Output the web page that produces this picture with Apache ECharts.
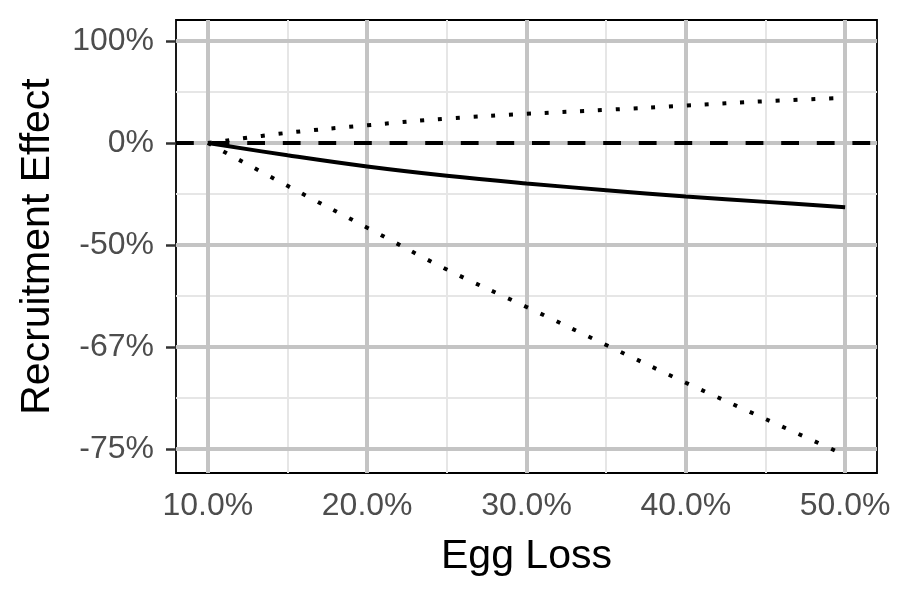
<!DOCTYPE html>
<html>
<head>
<meta charset="utf-8">
<script src="https://cdn.jsdelivr.net/npm/echarts@6/dist/echarts.min.js"></script>
<style>html,body{margin:0;padding:0;background:#fff;}#c{width:900px;height:600px;}</style>
</head>
<body>
<div id="c"></div>
<script>
// Egg loss (%) on x
const eggLoss = [10, 15, 20, 25, 30, 35, 40, 45, 50];
// Recruitment effect, in the chart's symmetric ratio scale (1 = +100%, -1 = -50%, -2 = -67%, -3 = -75%)
const centralEffect = [0, -0.12, -0.23, -0.321, -0.396, -0.462, -0.524, -0.577, -0.629];
const upperEffect   = [0, 0.10, 0.174, 0.24, 0.286, 0.325, 0.368, 0.41, 0.444];
const lowerEffect   = [0, -0.42, -0.83, -1.24, -1.607, -1.98, -2.35, -2.705, -3.06];

const xTicks = [10, 20, 30, 40, 50];
const xTickLabels = ['10.0%', '20.0%', '30.0%', '40.0%', '50.0%'];
const xMinor = [15, 25, 35, 45];
const yTicks = [1, 0, -1, -2, -3];
const yTickLabels = ['100%', '0%', '-50%', '-67%', '-75%'];
const yMinor = [0.5, -0.5, -1.5, -2.5];

const pairs = ys => eggLoss.map((x, i) => [x, ys[i]]);
const FONT = 'Liberation Sans, Arial, sans-serif';

const chart = echarts.init(document.getElementById('c'));
const gridLine = (arr, key, color, width) => arr.map(v => ({ [key]: v, lineStyle: { color, width, type: 'solid' } }));

chart.setOption({
  animation: false,
  grid: { left: 176, top: 20, width: 701, height: 453, show: true, borderColor: '#000', borderWidth: 1.8, backgroundColor: '#fff' },
  xAxis: {
    type: 'value', min: 8, max: 52,
    name: 'Egg Loss', nameLocation: 'middle', nameGap: 63,
    nameTextStyle: { fontSize: 41, color: '#000', fontFamily: FONT },
    axisLine: { show: false },
    splitLine: { show: false },
    axisTick: { show: true, customValues: xTicks, length: 10, lineStyle: { color: '#333', width: 2.5 } },
    axisLabel: { customValues: xTicks, margin: 17, fontSize: 32, color: '#4d4d4d', fontFamily: FONT,
      formatter: v => xTickLabels[xTicks.indexOf(v)] }
  },
  yAxis: {
    type: 'value', min: -3.235, max: 1.206,
    name: 'Recruitment Effect', nameLocation: 'middle', nameGap: 118,
    nameTextStyle: { fontSize: 41, color: '#000', fontFamily: FONT },
    axisLine: { show: false },
    splitLine: { show: false },
    axisTick: { show: true, customValues: yTicks, length: 10, lineStyle: { color: '#333', width: 2.5 } },
    axisLabel: { customValues: yTicks, margin: 22, fontSize: 32, color: '#4d4d4d', fontFamily: FONT,
      formatter: v => yTickLabels[yTicks.indexOf(v)] }
  },
  series: [
    { type: 'line', data: [], z: 1, silent: true,
      markLine: { silent: true, symbol: 'none', label: { show: false }, animation: false,
        data: [].concat(gridLine(xMinor, 'xAxis', '#e6e6e6', 2), gridLine(yMinor, 'yAxis', '#e6e6e6', 2)) } },
    { type: 'line', data: [], z: 2, silent: true,
      markLine: { silent: true, symbol: 'none', label: { show: false }, animation: false,
        data: [].concat(gridLine(xTicks, 'xAxis', '#c4c4c4', 4), gridLine(yTicks, 'yAxis', '#c4c4c4', 4)) } },
    { type: 'line', data: [], z: 3, silent: true,
      markLine: { silent: true, symbol: 'none', label: { show: false }, animation: false,
        data: [{ yAxis: 0, lineStyle: { color: '#000', width: 4, type: [17.8, 17.8], cap: 'butt' } }] } },
    { name: 'central', type: 'line', data: pairs(centralEffect), smooth: 0.4, symbol: 'none', z: 5,
      lineStyle: { color: '#000', width: 4 } },
    { name: 'upper', type: 'line', data: pairs(upperEffect), smooth: 0.4, symbol: 'none', z: 5,
      lineStyle: { color: '#000', width: 4, type: [4, 13.8], cap: 'butt' } },
    { name: 'lower', type: 'line', data: pairs(lowerEffect), smooth: 0.4, symbol: 'none', z: 5,
      lineStyle: { color: '#000', width: 4, type: [4, 13.8], cap: 'butt' } }
  ]
});
</script>
</body>
</html>
